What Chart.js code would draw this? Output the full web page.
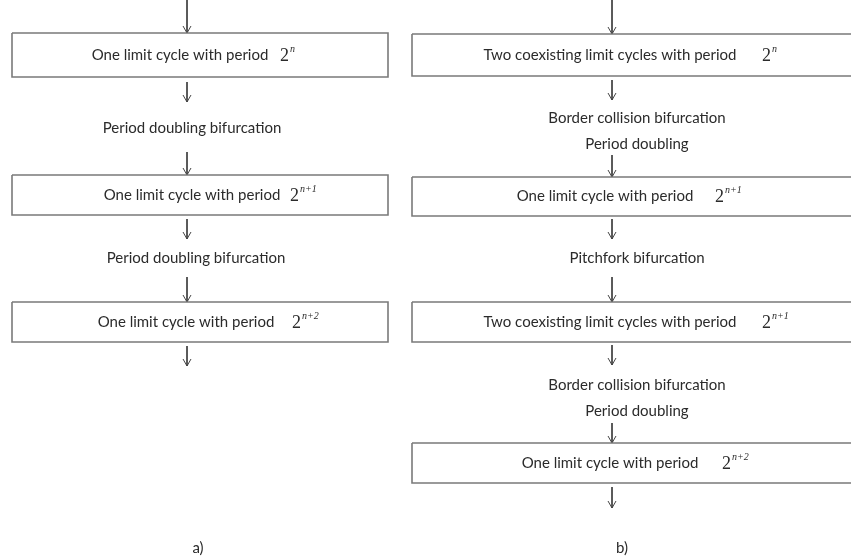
<!DOCTYPE html>
<html>
<head>
<meta charset="utf-8">
<script src="https://cdn.jsdelivr.net/npm/chart.js@4/dist/chart.umd.min.js"></script>
<style>
  html, body { margin: 0; padding: 0; background: #fff; }
  #wrap { width: 851px; height: 560px; position: relative; }
</style>
</head>
<body>
<div id="wrap"><canvas id="flow"></canvas></div>
<script>
// Left column (a)
var leftBoxText = ["One limit cycle with period", "One limit cycle with period", "One limit cycle with period"];
var leftBoxExp = ["n", "n+1", "n+2"];
var leftBoxTop = [33, 175, 302];
var leftBoxBottom = [77, 215, 342];
var leftTextCenter = [180, 192, 186];
var leftExpX = [280, 290, 292];
var leftArrowX = 187;
var leftArrows = [[0, 33], [82, 102], [152, 175], [219, 239], [277, 302], [346, 366]];
var leftNotes = ["Period doubling bifurcation", "Period doubling bifurcation"];
var leftNoteY = [128, 258];
var leftNoteX = [192, 196];

// Right column (b)
var rightBoxText = ["Two coexisting limit cycles with period", "One limit cycle with period", "Two coexisting limit cycles with period", "One limit cycle with period"];
var rightBoxExp = ["n", "n+1", "n+1", "n+2"];
var rightBoxTop = [34, 177, 302, 443];
var rightBoxBottom = [76, 216, 342, 483];
var rightTextCenter = [610, 605, 610, 610];
var rightExpX = [762, 715, 762, 722];
var rightArrowX = 612;
var rightArrows = [[0, 34], [80, 100], [155, 177], [219, 239], [277, 302], [345, 365], [423, 443], [487, 508]];
var rightNotes = ["Border collision bifurcation", "Period doubling", "Pitchfork bifurcation", "Border collision bifurcation", "Period doubling"];
var rightNoteY = [118, 144, 258, 385, 411];
var rightNoteX = [637, 637, 637, 637, 637];

var captions = ["a)", "b)"];
var captionX = [198, 622];
var captionY = [548, 548];

var boxX = { left: [12, 388], right: [412, 866] };

var datasets = [];

function addBoxes(xs, tops, bottoms) {
    for (var i = 0; i < tops.length; i++) {
        datasets.push({
            data: [
                { x: xs[0], y: tops[i] }, { x: xs[1], y: tops[i] },
                { x: xs[1], y: bottoms[i] }, { x: xs[0], y: bottoms[i] },
                { x: xs[0], y: tops[i] }
            ],
            borderColor: "#7a7a7a",
            borderWidth: 1.6
        });
    }
}

function addArrows(x, arrows) {
    for (var i = 0; i < arrows.length; i++) {
        var a = arrows[i];
        datasets.push({
            data: [{ x: x, y: a[0] }, { x: x, y: a[1] }],
            borderColor: "#444",
            borderWidth: 1
        });
        // open arrow head
        datasets.push({
            data: [{ x: x - 4, y: a[1] - 7 }, { x: x, y: a[1] }, { x: x + 4, y: a[1] - 7 }],
            borderColor: "#444",
            borderWidth: 1
        });
    }
}

addBoxes(boxX.left, leftBoxTop, leftBoxBottom);
addBoxes(boxX.right, rightBoxTop, rightBoxBottom);
addArrows(leftArrowX, leftArrows);
addArrows(rightArrowX, rightArrows);

var textFont = "15px Lato, 'Open Sans', sans-serif";
var textColor = "#2b2b2b";

var textPlugin = {
    id: "flowText",
    afterDatasetsDraw: function (chart) {
        var ctx = chart.ctx;
        var sx = chart.scales.x, sy = chart.scales.y;
        ctx.save();
        ctx.fillStyle = textColor;
        ctx.textBaseline = "middle";

        function boxLabels(texts, exps, tops, bottoms, centers, expXs) {
            for (var i = 0; i < texts.length; i++) {
                var yMid = sy.getPixelForValue((tops[i] + bottoms[i]) / 2);
                ctx.font = textFont;
                ctx.textAlign = "center";
                ctx.fillText(texts[i], sx.getPixelForValue(centers[i]), yMid);
                var ex = sx.getPixelForValue(expXs[i]);
                ctx.textAlign = "left";
                ctx.font = "18px 'Liberation Serif', 'DejaVu Serif', serif";
                ctx.fillText("2", ex, yMid + 1);
                ctx.font = "italic 10px 'Liberation Serif', 'DejaVu Serif', serif";
                ctx.fillText(exps[i], ex + 10, yMid - 6);
            }
        }

        function notes(texts, xs, ys) {
            ctx.font = textFont;
            ctx.textAlign = "center";
            for (var i = 0; i < texts.length; i++) {
                ctx.fillText(texts[i], sx.getPixelForValue(xs[i]), sy.getPixelForValue(ys[i]));
            }
        }

        boxLabels(leftBoxText, leftBoxExp, leftBoxTop, leftBoxBottom, leftTextCenter, leftExpX);
        boxLabels(rightBoxText, rightBoxExp, rightBoxTop, rightBoxBottom, rightTextCenter, rightExpX);
        notes(leftNotes, leftNoteX, leftNoteY);
        notes(rightNotes, rightNoteX, rightNoteY);
        notes(captions, captionX, captionY);
        ctx.restore();
    }
};

new Chart(document.getElementById("flow"), {
    type: "scatter",
    data: { datasets: datasets },
    options: {
        responsive: true,
        maintainAspectRatio: false,
        animation: false,
        layout: { padding: 0 },
        elements: {
            line: { tension: 0, fill: false },
            point: { radius: 0, hoverRadius: 0 }
        },
        datasets: { scatter: { showLine: true } },
        scales: {
            x: { type: "linear", min: 0, max: 851, display: false },
            y: { type: "linear", min: 0, max: 560, reverse: true, display: false }
        },
        plugins: {
            legend: { display: false },
            tooltip: { enabled: false }
        }
    },
    plugins: [textPlugin]
});
</script>
</body>
</html>
